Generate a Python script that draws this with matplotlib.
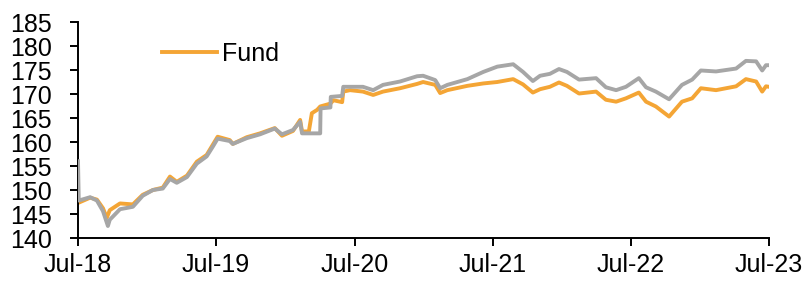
import matplotlib
matplotlib.use("Agg")
import matplotlib.pyplot as plt
import matplotlib.dates as mdates
import pandas as pd

plt.rcParams['font.family'] = ['Liberation Sans', 'DejaVu Sans']

fund_dates = ["2018-07-04", "2018-08-02", "2018-08-20", "2018-09-05", "2018-09-15", "2018-09-23",
              "2018-10-20", "2018-11-23", "2018-12-19", "2019-01-15", "2019-02-10", "2019-03-01",
              "2019-03-19", "2019-04-15", "2019-05-11", "2019-06-06", "2019-06-22", "2019-07-05",
              "2019-08-06", "2019-08-14", "2019-09-20", "2019-10-25", "2019-12-03", "2019-12-22",
              "2020-01-20", "2020-02-08", "2020-02-13", "2020-03-02", "2020-03-10", "2020-03-24",
              "2020-04-01", "2020-04-28", "2020-05-06", "2020-05-29", "2020-06-01", "2020-06-19",
              "2020-07-23", "2020-08-19", "2020-09-14", "2020-10-29", "2020-12-13", "2020-12-29",
              "2021-01-30", "2021-02-12", "2021-03-03", "2021-04-25", "2021-06-06", "2021-07-13",
              "2021-08-24", "2021-09-19", "2021-10-15", "2021-11-03", "2021-11-29", "2021-12-23",
              "2022-01-13", "2022-02-14", "2022-03-31", "2022-04-26", "2022-05-23", "2022-06-18",
              "2022-07-22", "2022-08-10", "2022-09-05", "2022-10-10", "2022-11-13", "2022-12-10",
              "2023-01-02", "2023-02-11", "2023-04-05", "2023-05-01", "2023-05-28", "2023-06-13",
              "2023-06-23", "2023-07-01"]
fund_values = [147.4, 148.4, 148.0, 146.2, 144.2, 145.8,
               147.2, 147.0, 149.0, 150.0, 150.5, 152.8,
               151.7, 153.0, 155.9, 157.3, 159.4, 161.1,
               160.4, 159.6, 161.0, 161.8, 162.9, 161.3,
               162.3, 164.6, 162.2, 162.2, 166.0, 166.7,
               167.4, 168.0, 168.7, 168.3, 170.5, 170.8,
               170.5, 169.8, 170.5, 171.2, 172.1, 172.5,
               171.9, 170.2, 170.8, 171.7, 172.2, 172.5,
               173.1, 172.0, 170.3, 171.0, 171.5, 172.4,
               171.7, 170.1, 170.5, 168.8, 168.4, 169.1,
               170.3, 168.4, 167.4, 165.3, 168.4, 169.1,
               171.2, 170.8, 171.6, 173.1, 172.6, 170.5,
               171.6, 171.5]

bench_dates = ["2018-07-01", "2018-07-03", "2018-08-02", "2018-08-20", "2018-09-05", "2018-09-18",
               "2018-09-23", "2018-10-20", "2018-11-23", "2018-12-19", "2019-01-15", "2019-02-10",
               "2019-03-01", "2019-03-19", "2019-04-15", "2019-05-11", "2019-06-06", "2019-06-22",
               "2019-07-05", "2019-08-06", "2019-08-14", "2019-09-20", "2019-10-25", "2019-12-03",
               "2019-12-22", "2020-01-20", "2020-02-08", "2020-02-13", "2020-04-01", "2020-04-02",
               "2020-04-28", "2020-04-29", "2020-05-29", "2020-06-01", "2020-07-23", "2020-08-19",
               "2020-09-14", "2020-10-29", "2020-12-13", "2020-12-29", "2021-01-30", "2021-02-12",
               "2021-03-03", "2021-04-25", "2021-06-06", "2021-07-13", "2021-08-24", "2021-09-19",
               "2021-10-15", "2021-11-03", "2021-11-29", "2021-12-23", "2022-01-13", "2022-02-14",
               "2022-03-31", "2022-04-26", "2022-05-23", "2022-06-18", "2022-07-22", "2022-08-10",
               "2022-09-05", "2022-10-10", "2022-11-13", "2022-12-10", "2023-01-02", "2023-02-11",
               "2023-04-05", "2023-05-01", "2023-05-28", "2023-06-13", "2023-06-23", "2023-07-01"]
bench_values = [156.0, 147.8, 148.5, 147.8, 145.6, 142.5,
                143.8, 146.0, 146.5, 148.8, 150.0, 150.3,
                152.3, 151.5, 152.7, 155.5, 157.0, 159.0,
                160.7, 160.2, 159.6, 160.8, 161.6, 162.8,
                161.6, 162.5, 164.2, 161.8, 161.8, 167.0,
                167.2, 169.4, 169.6, 171.5, 171.5, 170.8,
                171.9, 172.6, 173.7, 173.8, 172.9, 171.2,
                171.9, 173.1, 174.6, 175.7, 176.2, 174.6,
                172.7, 173.8, 174.2, 175.2, 174.6, 173.0,
                173.3, 171.4, 170.8, 171.5, 173.3, 171.4,
                170.5, 168.9, 171.9, 173.0, 174.9, 174.7,
                175.3, 176.9, 176.8, 174.9, 176.0, 176.0]

tick_dates = ["2018-07-01", "2019-07-01", "2020-07-01", "2021-07-01", "2022-07-01", "2023-07-01"]
tick_labels = ["Jul-18", "Jul-19", "Jul-20", "Jul-21", "Jul-22", "Jul-23"]
y_ticks = [140, 145, 150, 155, 160, 165, 170, 175, 180, 185]

fig = plt.figure(figsize=(8.09, 2.82), dpi=100)
ax = fig.add_axes([78/809, 44/282, 691/809, 216/282])

fd = pd.to_datetime(fund_dates)
bd = pd.to_datetime(bench_dates)
fund_line, = ax.plot(fd, fund_values, color="#F4A535", lw=2.8, solid_joinstyle="round", label="Fund", zorder=2)
ax.plot(bd, bench_values, color="#A6A6A6", lw=2.8, solid_joinstyle="round", zorder=3)

td = pd.to_datetime(tick_dates)
ax.set_xlim(td[0], td[-1])
ax.set_ylim(140, 185)
ax.set_xticks(td)
ax.set_xticklabels(tick_labels)
ax.set_yticks(y_ticks)

for s in ["top", "right"]:
    ax.spines[s].set_visible(False)
for s in ["left", "bottom"]:
    ax.spines[s].set_linewidth(1.4)
    ax.spines[s].set_color("black")

ax.tick_params(axis="y", direction="out", length=6, width=1.4, pad=13, labelsize=18)
ax.tick_params(axis="x", direction="out", length=5.5, width=1.4, pad=5, labelsize=18)

ax.legend(handles=[fund_line], loc="center left", bbox_to_anchor=((162-78)/691, (238-54)/216),
          frameon=False, fontsize=18, handlelength=2.2, handletextpad=0.2, borderpad=0,
          borderaxespad=0)

fig.savefig("out.png", dpi=100)
